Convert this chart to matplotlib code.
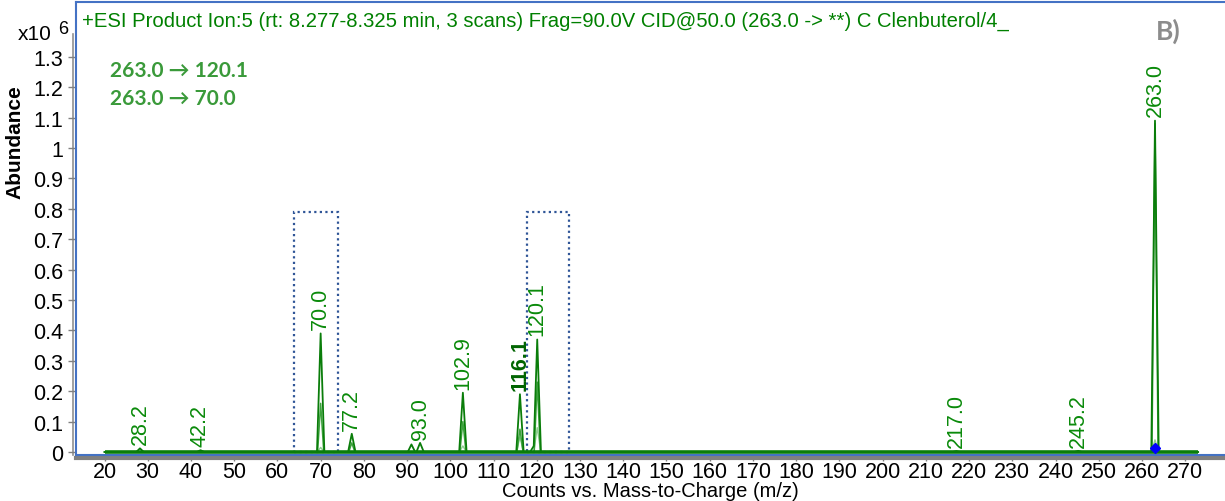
import numpy as np
import matplotlib
matplotlib.use('Agg')
import matplotlib.pyplot as plt
from matplotlib.patches import Rectangle
from matplotlib.ticker import FixedLocator, FuncFormatter

# ---------------- data (intensities in units of 10^6 counts) ----------------
mz_range = [20.0, 273.0]
scan1_mz = [28.2, 42.2, 70.0, 77.2, 91.0, 93.0, 102.9, 116.1, 119.3, 120.1, 217.0, 245.2, 263.0]
scan1_int = [0.012, 0.006, 0.39, 0.06, 0.025, 0.03, 0.195, 0.19, 0.02, 0.37, 0.003, 0.004, 1.09]
scan2_mz = [70.0, 77.2, 102.9, 116.1, 120.1, 263.0]
scan2_int = [0.16, 0.03, 0.10, 0.075, 0.23, 1.08]
scan3_mz = [70.0, 102.9, 116.1, 120.1, 263.0]
scan3_int = [0.015, 0.02, 0.05, 0.08, 0.04]
label_mz = [28.2, 42.2, 70.0, 77.2, 93.0, 102.9, 116.1, 120.1, 217.0, 245.2, 263.0]
label_int = [0.012, 0.006, 0.39, 0.06, 0.03, 0.195, 0.19, 0.37, 0.003, 0.004, 1.09]
precursor_mz = [263.0]
precursor_int = [0.012]
window_lo = [63.8, 117.7]
window_hi = [74.0, 127.4]
window_top = 0.79
x_ticks = list(range(20, 271, 10))
y_ticks = [round(0.1 * i, 1) for i in range(14)]
transitions = ["263.0 \u2192 120.1", "263.0 \u2192 70.0"]
title = "+ESI Product Ion:5 (rt: 8.277-8.325 min, 3 scans) Frag=90.0V CID@50.0 (263.0 -> **) C Clenbuterol/4_"

NARROW = ['Liberation Sans Narrow', 'Liberation Sans', 'DejaVu Sans']
SANS = ['Liberation Sans', 'DejaVu Sans']

def profile(mzs, ints, grid, hw=0.8):
    y = np.zeros_like(grid)
    for m, h in zip(mzs, ints):
        y = np.maximum(y, h * np.clip(1 - np.abs(grid - m) / hw, 0, None))
    return y

W, H = 1225, 502
fig = plt.figure(figsize=(W / 100, H / 100), dpi=100)
ax = fig.add_axes([76 / W, (H - 456) / H, (W - 76) / W, (456 - 3) / H])
ppu = 4.323
x0 = 20 - 28.5 / ppu
ax.set_xlim(x0, x0 + (W - 76) / ppu)
ax.set_ylim(-3 / 304, 450 / 304)

grid = np.arange(mz_range[0], mz_range[1], 0.02)
ax.plot(grid, profile(scan3_mz, scan3_int, grid), color='#8fd08f', lw=1.0, zorder=3)
ax.plot(grid, profile(scan2_mz, scan2_int, grid, hw=0.7), color='#3da33d', lw=1.1, zorder=3)
ax.plot(grid, profile(scan1_mz, scan1_int, grid, hw=0.85), color='#0a7d0a', lw=1.3, zorder=4)
ax.plot(mz_range, [0, 0], color='#0a7d0a', lw=2.6, zorder=4, solid_capstyle='butt')
ax.plot(precursor_mz, precursor_int, marker='D', color='#0000ff', ms=5, zorder=6)

for lo, hi in zip(window_lo, window_hi):
    ax.add_patch(Rectangle((lo, 0), hi - lo, window_top, fill=False, ec='#2f5597',
                           lw=1.6, ls=(0, (1, 1.5)), zorder=2))

for m, h in zip(label_mz, label_int):
    col = '#006400' if m == 116.1 else '#0a8a0a'
    ax.annotate(f"{m:.1f}", (m, h), xytext=(0, 3), textcoords='offset points',
                rotation=90, ha='center', va='bottom', fontsize=15.5, color=col,
                family=SANS, fontweight='bold' if m == 116.1 else 'normal')

# frame and axes
ax.spines['right'].set_visible(False)
for s in ['top', 'left', 'bottom']:
    ax.spines[s].set_color('#4472c4')
    ax.spines[s].set_linewidth(1.5)
# gray axis lines
ax.plot([0, 1], [-0.006, -0.006], transform=ax.transAxes, color='#808080', lw=3,
        clip_on=False, zorder=1)
ax.plot([-0.0028, -0.0028], [0, 0.93], transform=ax.transAxes, color='#909090', lw=1.2,
        clip_on=False, zorder=1)

ax.xaxis.set_major_locator(FixedLocator(x_ticks))
ax.yaxis.set_major_locator(FixedLocator(y_ticks))
ax.yaxis.set_major_formatter(FuncFormatter(lambda v, p: f"{v:g}"))
ax.tick_params(axis='x', direction='out', length=4, width=1, color='#808080', pad=0.5,
               labelsize=15.5)
ax.tick_params(axis='y', direction='out', length=6, width=1, color='#808080', pad=3,
               labelsize=15.5)
for lab in ax.get_xticklabels() + ax.get_yticklabels():
    lab.set_family(NARROW)

fig.text(650 / W, 1 - 492 / H, "Counts vs. Mass-to-Charge (m/z)", fontsize=14.5,
         family=NARROW, ha='center', va='center')
fig.text(15 / W, 1 - 142 / H, "Abundance", fontsize=15, fontweight='bold', family=SANS,
         rotation=90, ha='center', va='center')

fig.text(18 / W, 1 - 35 / H, "x10", fontsize=15, family=NARROW, va='center', ha='left')
fig.text(58 / W, 1 - 30 / H, "6", fontsize=13, family=NARROW, va='center', ha='left')

fig.text(82 / W, 1 - 21 / H, title, fontsize=14.6, color='#008000', family=SANS,
         va='center', ha='left')
for i, t in enumerate(transitions):
    fig.text(110 / W, 1 - (71 + i * 28) / H, t, fontsize=15, fontweight='bold',
             color='#3a9a3a', family=['Lato', 'DejaVu Sans'], va='center', ha='left')
fig.text(1168 / W, 1 - 31 / H, "B)", fontsize=19, fontweight='bold', color='#8c8c8c',
         family=['Lato', 'DejaVu Sans'], va='center', ha='center')

fig.savefig('out.png', dpi=100)
